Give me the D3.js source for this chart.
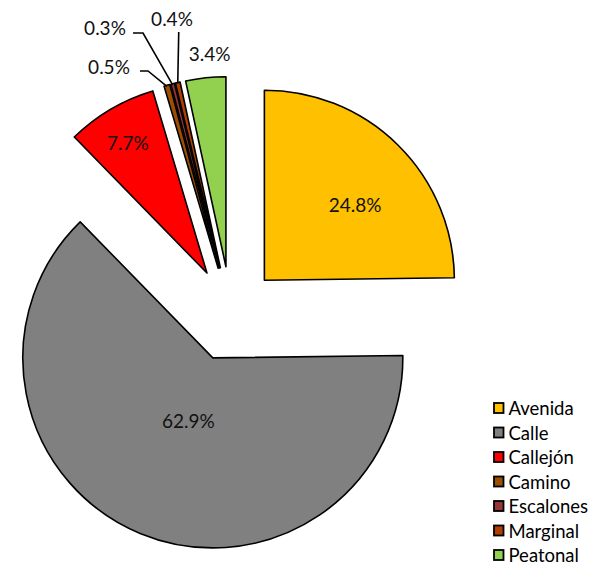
<!DOCTYPE html>
<html><head><meta charset="utf-8">
<script src="https://cdn.jsdelivr.net/npm/d3@7"></script>
<style>html,body{margin:0;padding:0;background:#fff;}svg{display:block;}</style>
</head><body>
<svg id="c" width="589" height="567"></svg>
<script>
const categories = ["Avenida","Calle","Callejón","Camino","Escalones","Marginal","Peatonal"];
const values = [24.8, 62.9, 7.7, 0.5, 0.3, 0.4, 3.4];
const labels = ["24.8%","62.9%","7.7%","0.5%","0.3%","0.4%","3.4%"];
const colors = ["#FFC000","#808080","#FF0000","#9C4E04","#953735","#B03F00","#92D050"];

// layout config (not data)
const cx = 231, cy = 314, R = 190, explode = 47.5;
const labelFont = "Lato, 'Noto Sans', sans-serif";
const labelLayout = [
  {type:"inside", dx:24, dy:-8},
  {type:"inside", dx:12, dy:-25},
  {type:"inside", dx:-31, dy:-49},
  {type:"leader", elbow:[148,71], end:[140,71], text:[109,66]},
  {type:"leader", elbow:[143,33], end:[133,33], text:[105,27]},
  {type:"leader", elbow:null, endY:32, text:[172,18]},
  {type:"outside", dx:4, dy:-24}
];

const svg = d3.select("#c");
const data = categories.map((c,i)=>({cat:c, v:values[i], i}));
const pie = d3.pie().sort(null).value(d=>d.v).startAngle(0).endAngle(2*Math.PI);
const arcs = pie(data);
const arc = d3.arc().innerRadius(0).outerRadius(R);
const outerArc = d3.arc().innerRadius(R).outerRadius(R);

const g = svg.append("g").attr("transform",`translate(${cx},${cy})`);

arcs.forEach(a=>{
  const mid = (a.startAngle + a.endAngle)/2;
  a.ox = Math.sin(mid)*explode;
  a.oy = -Math.cos(mid)*explode;
});

g.selectAll("path.slice").data(arcs).join("path")
  .attr("class","slice")
  .attr("transform",d=>`translate(${d.ox},${d.oy})`)
  .attr("d",arc)
  .attr("fill",d=>colors[d.data.i])
  .attr("stroke","#000")
  .attr("stroke-width",1.6)
  .attr("stroke-linejoin","round");

arcs.forEach(a=>{
  const L = labelLayout[a.data.i];
  const txt = labels[a.data.i];
  if (L.type==="inside" || L.type==="outside") {
    const [x,y] = arc.centroid(a);
    let px = cx + a.ox + x + L.dx, py = cy + a.oy + y + L.dy;
    if (L.type==="outside") {
      const [ox,oy] = outerArc.centroid(a);
      px = cx + a.ox + ox + L.dx; py = cy + a.oy + oy + L.dy;
    }
    svg.append("text").attr("x",px).attr("y",py)
      .attr("text-anchor","middle").attr("dominant-baseline","central")
      .attr("font-family",labelFont).attr("font-size",19).attr("fill","#111")
      .text(txt);
  } else {
    const [ox,oy] = outerArc.centroid(a);
    const sx = cx + a.ox + ox, sy = cy + a.oy + oy + 1;
    let pts;
    if (L.elbow) pts = [[sx,sy], L.elbow, L.end];
    else pts = [[sx,sy],[sx+1,L.endY]];
    svg.append("path").attr("d",d3.line()(pts))
      .attr("fill","none").attr("stroke","#000").attr("stroke-width",1.6);
    svg.append("text").attr("x",L.text[0]).attr("y",L.text[1])
      .attr("text-anchor","middle").attr("dominant-baseline","central")
      .attr("font-family",labelFont).attr("font-size",19).attr("fill","#111")
      .text(txt);
  }
});

const ly = d3.scalePoint().domain(categories).range([408, 555]);
const leg = svg.append("g");
categories.forEach((c,i)=>{
  const y = ly(c);
  leg.append("rect").attr("x",494).attr("y",y-5).attr("width",9.5).attr("height",10)
    .attr("fill",colors[i]).attr("stroke","#000").attr("stroke-width",1.8);
  leg.append("text").attr("x",508.5).attr("y",y).attr("dominant-baseline","central")
    .attr("font-family",labelFont).attr("font-size",18.5).attr("fill","#000").text(c);
});
</script>
</body></html>
